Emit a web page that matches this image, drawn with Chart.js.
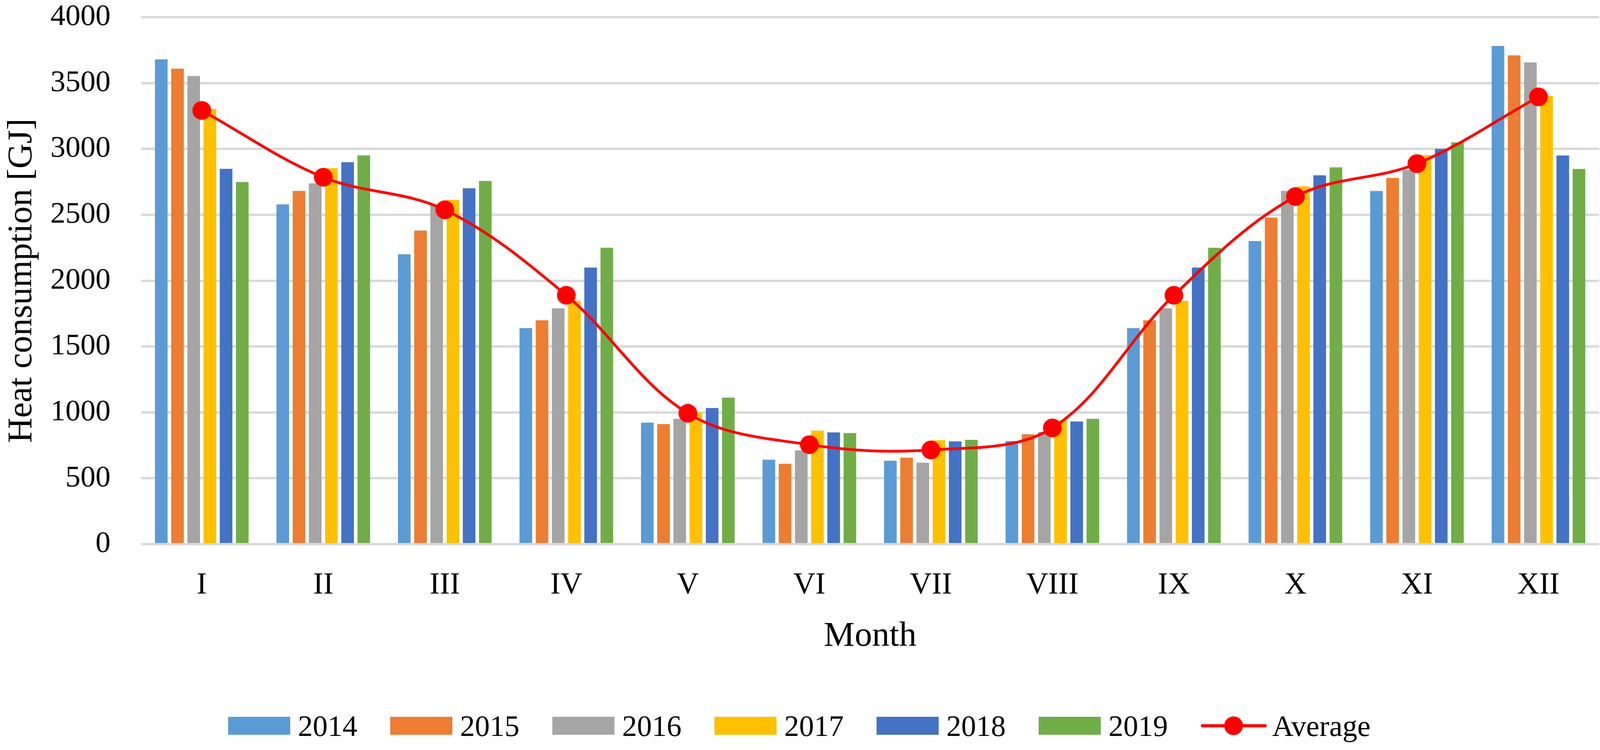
<!DOCTYPE html>
<html>
<head>
<meta charset="utf-8">
<script src="https://cdn.jsdelivr.net/npm/chart.js@4"></script>
<style>
    html, body { margin: 0; padding: 0; background: #fff; }
    #wrap { position: relative; width: 4118px; height: 1920px; }
    #legend {
        position: absolute; left: -13px; top: 1828px; width: 4118px; height: 60px;
        display: flex; justify-content: center; align-items: center;
        font-family: "Liberation Serif", serif; font-size: 76px; color: #000;
    }
    .item { display: flex; align-items: center; margin: 0 42px; }
    .swatch { width: 159px; height: 46px; margin-right: 20px; }
    .avg { position: relative; width: 169px; height: 48px; margin-right: 14px; }
    .avg .ln { position: absolute; left: 0; right: 0; top: 20px; height: 8px; background: #ff0000; border-radius: 4px; }
    .avg .dot { position: absolute; left: 60px; top: 0; width: 48px; height: 48px; border-radius: 50%; background: #ff0000; }
</style>
</head>
<body>
<div id="wrap">
    <canvas id="heatChart" width="4118" height="1920"></canvas>
    <div id="legend"></div>
</div>
<script>
const months = ['I', 'II', 'III', 'IV', 'V', 'VI', 'VII', 'VIII', 'IX', 'X', 'XI', 'XII'];
const years = ['2014', '2015', '2016', '2017', '2018', '2019'];
const yearColors = ['#5B9BD5', '#ED7D31', '#A5A5A5', '#FFC000', '#4472C4', '#70AD47'];

const heat2014 = [3680, 2579, 2200, 1640, 922, 641, 633, 783, 1640, 2301, 2681, 3781];
const heat2015 = [3609, 2681, 2380, 1699, 911, 610, 656, 834, 1699, 2479, 2780, 3710];
const heat2016 = [3554, 2739, 2575, 1790, 951, 712, 618, 851, 1790, 2681, 2840, 3657];
const heat2017 = [3303, 2853, 2614, 1847, 999, 862, 789, 939, 1847, 2715, 2953, 3404];
const heat2018 = [2849, 2899, 2701, 2099, 1033, 848, 780, 931, 2099, 2800, 3001, 2950];
const heat2019 = [2749, 2950, 2757, 2250, 1112, 843, 792, 951, 2250, 2860, 3050, 2848];
const heatAverage = [3292, 2785, 2538, 1889, 993, 755, 715, 882, 1889, 2638, 2888, 3395];

const yTicks = [0, 500, 1000, 1500, 2000, 2500, 3000, 3500, 4000];

const serif = '"Liberation Serif", "Times New Roman", serif';
Chart.defaults.font.family = serif;
Chart.defaults.color = '#000';

const yearSeries = [heat2014, heat2015, heat2016, heat2017, heat2018, heat2019];

const barSets = yearSeries.map((vals, i) => ({
    type: 'bar',
    label: years[i],
    data: vals,
    backgroundColor: yearColors[i],
    borderWidth: 0,
    categoryPercentage: 0.8,
    barPercentage: 0.78,
    order: 1
}));

const avgSet = {
    type: 'line',
    label: 'Average',
    data: heatAverage,
    borderColor: '#FF0000',
    borderWidth: 7,
    tension: 0.35,
    pointRadius: 24,
    pointBackgroundColor: '#FF0000',
    pointBorderWidth: 0,
    fill: false,
    order: 0
};

new Chart(document.getElementById('heatChart'), {
    type: 'bar',
    data: { labels: months, datasets: [...barSets, avgSet] },
    options: {
        responsive: false,
        animation: false,
        devicePixelRatio: 1,
        layout: { padding: { top: 44, right: 23, bottom: 237, left: 0 } },
        plugins: { legend: { display: false }, tooltip: { enabled: false } },
        scales: {
            x: {
                grid: { display: false, drawTicks: false },
                border: { display: false },
                ticks: { padding: 59, font: { size: 78, lineHeight: 1.2 } },
                title: {
                    display: true, text: 'Month',
                    font: { size: 89, lineHeight: 1.2 },
                    padding: { top: 0, bottom: 0 }
                },
                afterFit: s => { s.height = 290; }
            },
            y: {
                min: 0, max: 4000,
                afterBuildTicks: s => { s.ticks = yTicks.map(v => ({ value: v })); },
                grid: { color: '#D9D9D9', lineWidth: 6, drawTicks: false },
                border: { display: false },
                ticks: { padding: 78, font: { size: 77, lineHeight: 1 }, callback: v => String(v) },
                title: {
                    display: true, text: 'Heat consumption [GJ]',
                    font: { size: 89, lineHeight: 1.2 },
                    padding: { top: 3, bottom: 0 }
                },
                afterFit: s => {
                    s.width = 361;
                    // tick padding would otherwise push the plot top down
                    s.paddingTop = 0;
                    s.paddingBottom = 0;
                }
            }
        }
    }
});

// legend drawn as html below the plot
const legend = document.getElementById('legend');
legend.innerHTML = years.map((y, i) => `
    <div class="item"><div class="swatch" style="background:${yearColors[i]}"></div><span>${y}</span></div>
`).join('') + `
    <div class="item"><div class="avg"><div class="ln"></div><div class="dot"></div></div><span>Average</span></div>`;
</script>
</body>
</html>
